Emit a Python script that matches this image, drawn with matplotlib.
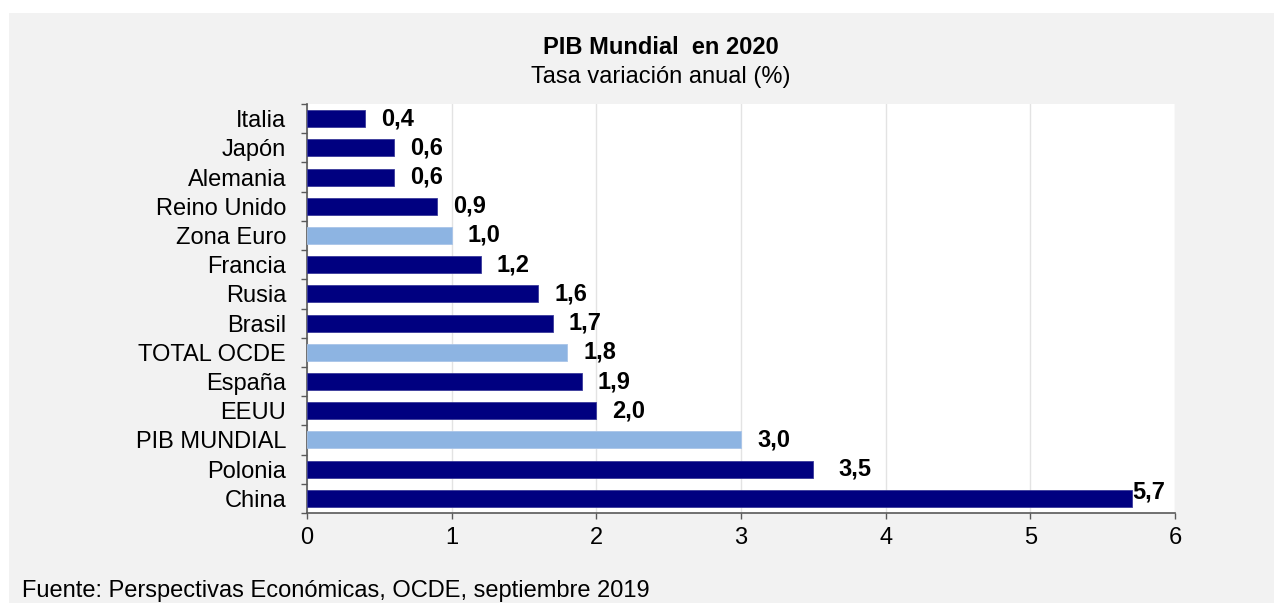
import matplotlib
matplotlib.use("Agg")
import matplotlib.pyplot as plt
from matplotlib.patches import Rectangle
from matplotlib.ticker import FixedLocator
import numpy as np

# data (top to bottom as in the chart)
countries = ["Italia", "Japón", "Alemania", "Reino Unido", "Zona Euro", "Francia",
             "Rusia", "Brasil", "TOTAL OCDE", "España", "EEUU", "PIB MUNDIAL",
             "Polonia", "China"]
growth = [0.4, 0.6, 0.6, 0.9, 1.0, 1.2, 1.6, 1.7, 1.8, 1.9, 2.0, 3.0, 3.5, 5.7]
aggregates = ["Zona Euro", "TOTAL OCDE", "PIB MUNDIAL"]

plt.rcParams["font.family"] = ["Liberation Sans", "DejaVu Sans"]
FS = 17
W, H = 1274, 603

fig = plt.figure(figsize=(W / 100, H / 100), dpi=100, facecolor="white")
# grey panel behind everything
fig.patches.append(Rectangle((9 / W, 0), 1, 1 - 13 / H, transform=fig.transFigure,
                             facecolor="#f2f2f2", edgecolor="none", zorder=-5))

ax = fig.add_axes([307 / W, 1 - 513 / H, 868 / W, (513 - 104) / H])
ax.set_zorder(2)
ax.set_facecolor("white")

n = len(countries)
ypos = np.arange(n)[::-1]  # Italia on top
colors = ["#8db4e2" if c in aggregates else "#000080" for c in countries]
edges = ["#a9c4e8" if c in aggregates else "#3a3a9a" for c in countries]
ax.barh(ypos, growth, height=0.58, color=colors, edgecolor=edges, linewidth=0.6, zorder=3)

# value labels (pixel offsets)
for y, v, c in zip(ypos, growth, countries):
    dx, dy = 16, 0
    if c == "Polonia":
        dx = 25
    if c == "China":
        dx, dy = 1, 6
    ax.annotate(f"{v:.1f}".replace(".", ","), (v, y), xytext=(dx * 0.72, dy * 0.72),
                textcoords="offset points", ha="left", va="center",
                fontsize=FS, fontweight="bold", zorder=4, annotation_clip=False)

ax.set_xlim(0, 6)
ax.set_ylim(-0.5, n - 0.5)
ax.set_xticks(range(0, 7))
ax.tick_params(axis="x", labelsize=FS, length=4.3, width=1, color="#595959",
               direction="out", pad=6)
ax.set_yticks(ypos)
ax.set_yticklabels(countries)
ax.tick_params(axis="y", which="major", length=0, labelsize=FS, pad=15)
ax.yaxis.set_minor_locator(FixedLocator(np.arange(-0.5, n, 1.0)))
ax.tick_params(axis="y", which="minor", length=4.3, width=1, color="#595959", direction="out")

ax.grid(axis="x", color="#e3e3e3", linewidth=1, zorder=0)
ax.set_axisbelow(True)
for s in ["top", "right"]:
    ax.spines[s].set_visible(False)
for s in ["left", "bottom"]:
    ax.spines[s].set_color("#595959")
    ax.spines[s].set_linewidth(1.2)

fig.text(661 / W, 1 - 47 / H, "PIB Mundial  en 2020", ha="center", va="center",
         fontsize=FS, fontweight="bold")
fig.text(661 / W, 1 - 77 / H, "Tasa variación anual (%)", ha="center", va="center",
         fontsize=FS)
fig.text(22 / W, 5.5 / H, "Fuente: Perspectivas Económicas, OCDE, septiembre 2019",
         ha="left", va="baseline", fontsize=FS)

fig.savefig("out.png", dpi=100, facecolor=fig.get_facecolor())
